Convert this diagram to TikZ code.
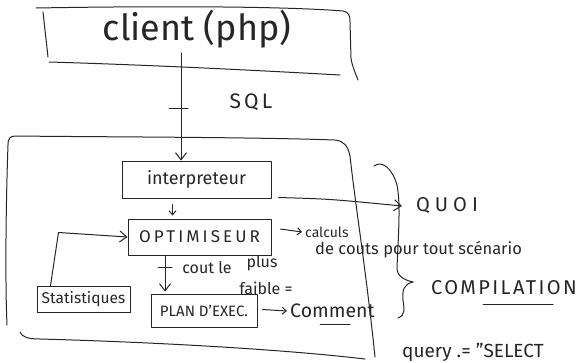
\documentclass[tikz,border=0pt]{standalone}
\usepackage{fontspec}
\setmainfont{Fira Sans}
\usetikzlibrary{arrows.meta}
\newcommand{\fs}[1]{\fontsize{#1}{#1}\selectfont}
\newcommand{\spaced}[1]{\addfontfeature{LetterSpace=#1}}

\begin{document}
\begin{tikzpicture}[x=1pt,y=-1pt,
  ink/.style={line width=1pt, draw=black!85, line cap=round, line join=round},
  tip/.style={-{Straight Barb[length=7pt,width=11pt,line width=1pt]}},
  tipsmall/.style={-{Straight Barb[length=4pt,width=7pt,line width=1pt]}},
  lbl/.style={inner sep=0pt, text=black!85},
  box/.style={ink, rectangle, inner sep=0pt, text=black!85}]
\useasboundingbox (0,0) rectangle (583,362);

% client frame, drawn by hand
\draw[ink] (36,8) .. controls (150,6) and (280,6) .. (343,11)
  .. controls (349,12) and (350,16) .. (350,22) -- (351,58)
  .. controls (352,66) and (355,72) .. (358,80);
\draw[ink] (49,62) .. controls (150,65) and (250,70) .. (340,75);
\draw[ink] (43,12) -- (48,57);
\node[lbl, font=\fs{36}] (client) at (197,29) {client (php)};

% server frame
\draw[ink] (7,325) .. controls (5,280) and (6,200) .. (8,145)
  .. controls (8,138) and (10,136) .. (16,136)
  .. controls (100,137) and (250,137) .. (335,140)
  .. controls (344,141) and (348,146) .. (350,156)
  .. controls (356,210) and (366,270) .. (375,357);
\draw[ink] (20,332) .. controls (22,337) and (28,339) .. (40,339)
  .. controls (150,342) and (280,349) .. (365,359);

% boxes
\node[box, minimum width=149pt, minimum height=37pt, font=\fs{18}] (interp) at (196.5,179.5) {interpreteur};
\node[box, minimum width=143pt, minimum height=36pt, font=\fs{17}\spaced{18}] (optim) at (199.5,237) {OPTIMISEUR};
\node[box, minimum width=93pt, minimum height=26pt, font=\fs{15.5}] (stat) at (83.5,299) {Statistiques};
\node[box, minimum width=106pt, minimum height=33pt, font=\fs{15}] (plan) at (204,310.5) {PLAN D'EXEC.};

% labels
\node[lbl, font=\fs{21}\spaced{15}] (sql) at (251,102) {SQL};
\node[lbl, font=\fs{20}\spaced{25}] (quoi) at (447,206) {QUOI};
\node[lbl, font=\fs{14}, anchor=west] (calc) at (305,232) {calculs};
\node[lbl, font=\fs{16.5}, anchor=west] (scen) at (315,250) {de couts pour tout scénario};
\node[lbl, font=\fs{16}] (coutle) at (207,268) {cout le};
\node[lbl, font=\fs{16}] (plus) at (262,263) {plus};
\node[lbl, font=\fs{16}] (faible) at (266,288) {faible =};
\node[lbl, font=\fs{19.5}, anchor=west] (comment) at (290,311) {Comment};
\node[lbl, font=\fs{20}\spaced{12}] (compil) at (504,288) {COMPILATION};
\node[lbl, font=\fs{19}, anchor=west] (query) at (402,352) {query .= "SELECT};

% underlines
\draw[ink] (320,324) -- (350,324);
\draw[ink] (483,304) -- (553,304);

% brace
\draw[ink] (374,166) .. controls (382,160) and (392,168) .. (397,185)
  .. controls (401,205) and (398,240) .. (397,268)
  .. controls (397,276) and (404,280) .. (413,282);
\draw[ink] (413,282) .. controls (404,284) and (402,290) .. (403,300)
  .. controls (404,308) and (406,315) .. (398,318);

% connectors
\coordinate (sqlstart) at (181,53);
\draw[ink, tip] (sqlstart) -- (sqlstart |- interp.north);
\draw[ink] (169,108) -- (188,108);

\draw[ink, tipsmall] ([xshift=-24pt,yshift=-6pt]interp.south) -- ([xshift=-27pt,yshift=3pt]optim.north);

\draw[ink, tip] ([xshift=7pt,yshift=1pt]interp.south east)
  .. controls (330,199) .. ([xshift=-14pt]quoi.west);

\draw[ink, tip] ([xshift=-33pt]stat.north) -- ++(8,-53) -- (optim.west);

\draw[ink, tip] ([xshift=-34.5pt]optim.south) -- ([xshift=-39pt,yshift=2pt]plan.north);
\draw[ink] (158,267) -- (172,267);

\draw[ink, tipsmall] ([xshift=9pt,yshift=8pt]optim.east) -- ([xshift=-3pt]calc.west);
\draw[ink, tipsmall] ([xshift=5pt,yshift=1pt]plan.east) -- ([xshift=-3pt]comment.west);
\end{tikzpicture}
\end{document}
